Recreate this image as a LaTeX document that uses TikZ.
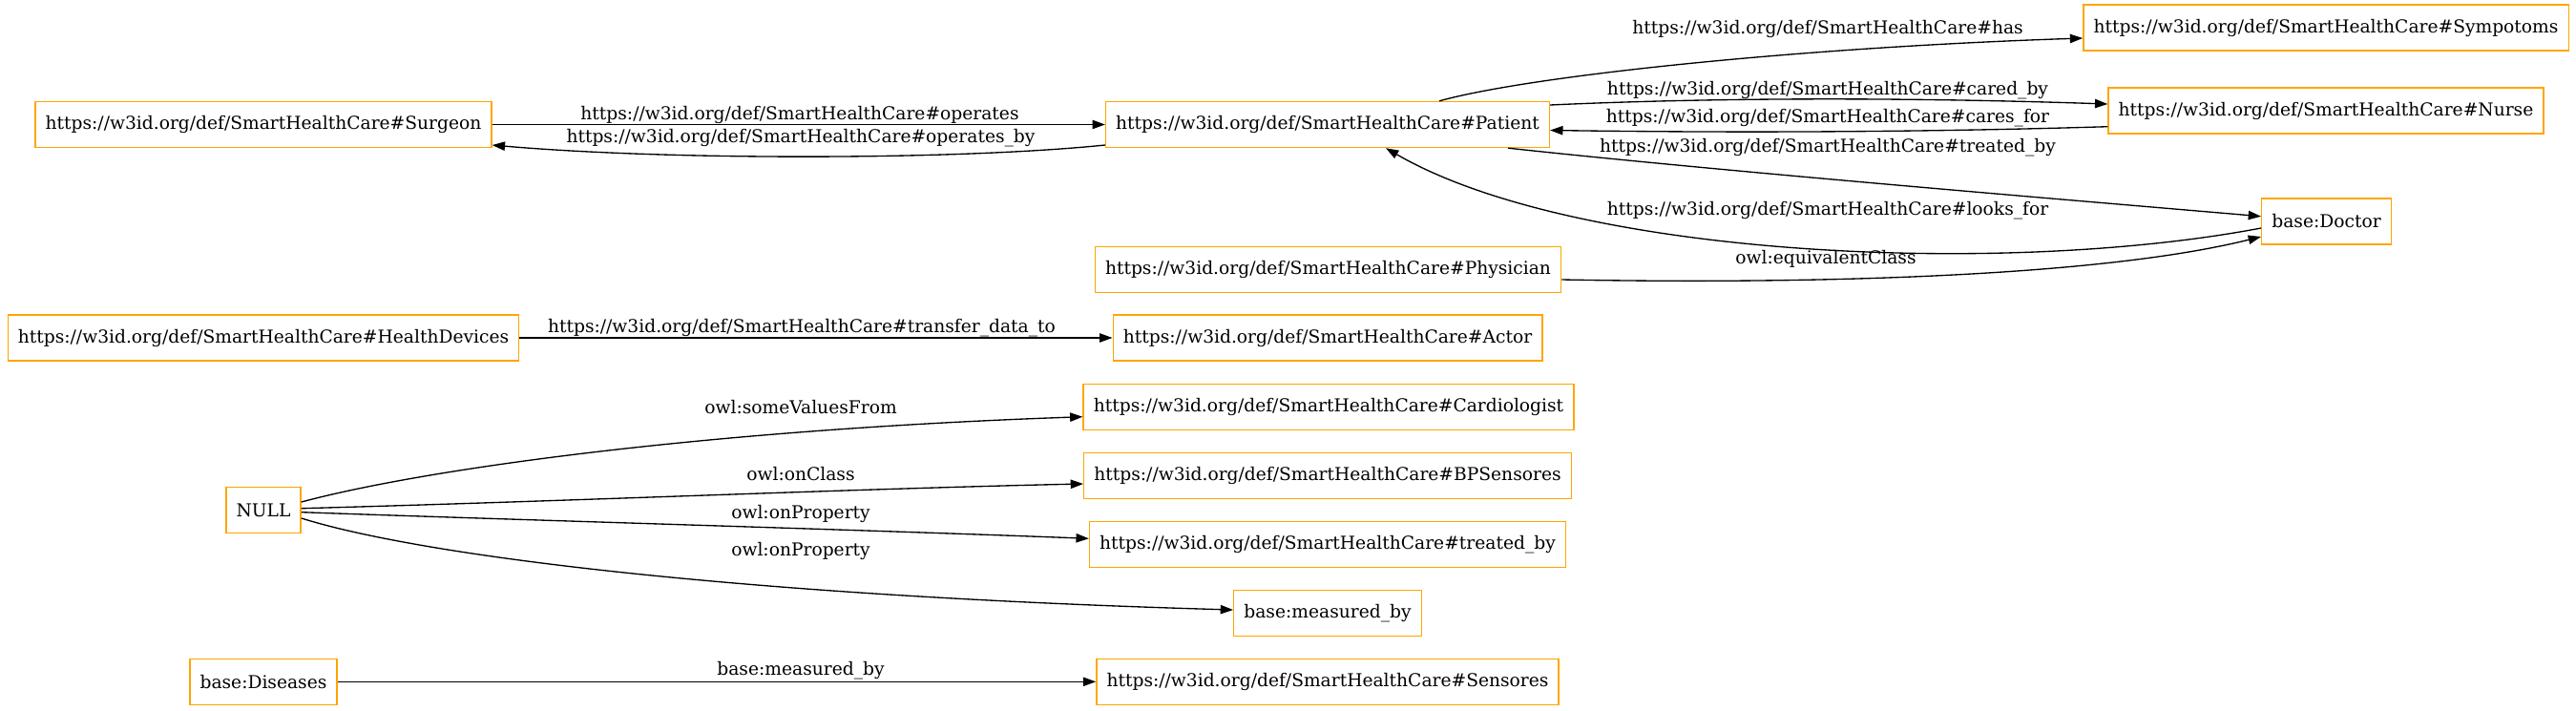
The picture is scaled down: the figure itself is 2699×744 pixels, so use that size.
\documentclass[tikz,border=0pt]{standalone}
\usepackage{fontspec}
\setmainfont{DejaVu Serif}
\usetikzlibrary{arrows.meta,calc}
\definecolor{gvorange}{RGB}{255,165,0}
\tikzset{
  cls/.style={draw=gvorange,line width=1pt,fill=white,minimum height=36pt,inner xsep=8pt,inner ysep=0pt,font=\fontsize{14pt}{16pt}\selectfont},
  lbl/.style={inner sep=0pt,font=\fontsize{14pt}{16pt}\selectfont},
  edge/.style={line width=1pt,-{Triangle[length=10pt,width=7pt]}}
}
\begin{document}
\begin{tikzpicture}[x=0.75pt,y=-0.75pt]
\fill[white] (0,0) rectangle (2699,744);
\useasboundingbox (0,0) rectangle (2699,744);
% nodes
\node[cls] (surgeon) at (276,130.5) {https://w3id.org/def/SmartHealthCare\#Surgeon};
\node[cls] (patient) at (1391,130.5) {https://w3id.org/def/SmartHealthCare\#Patient};
\node[cls] (symp) at (2437,29) {https://w3id.org/def/SmartHealthCare\#Sympotoms};
\node[cls] (nurse) at (2437,116) {https://w3id.org/def/SmartHealthCare\#Nurse};
\node[cls] (doctor) at (2437.5,232) {base:Doctor};
\node[cls] (physician) at (1391.5,282.5) {https://w3id.org/def/SmartHealthCare\#Physician};
\node[cls] (hdev) at (276,354) {https://w3id.org/def/SmartHealthCare\#HealthDevices};
\node[cls] (actor) at (1391,354) {https://w3id.org/def/SmartHealthCare\#Actor};
\node[cls] (cardio) at (1392,426.7) {https://w3id.org/def/SmartHealthCare\#Cardiologist};
\node[cls] (bps) at (1391,498.7) {https://w3id.org/def/SmartHealthCare\#BPSensores};
\node[cls] (tby) at (1391,570.5) {https://w3id.org/def/SmartHealthCare\#treated\_by};
\node[cls] (mby) at (1391,642.7) {base:measured\_by};
\node[cls] (null) at (276,534.7) {NULL};
\node[cls] (diseases) at (276,714.3) {base:Diseases};
\node[cls] (sensores) at (1391,714.3) {https://w3id.org/def/SmartHealthCare\#Sensores};
% edges
\draw[edge] (surgeon.east) -- (patient.west);
\node[lbl] (l1) at (838,120) {https://w3id.org/def/SmartHealthCare\#operates};
\draw[edge] ($(patient.west)+(0,21.5)$) .. controls (1000,168) and (700,168) .. ($(surgeon.east)+(0,21.5)$);
\node[lbl] (l2) at (839,145) {https://w3id.org/def/SmartHealthCare\#operates\_by};
\draw[edge] ($(patient.north)+(117,0)$) .. controls (1600,80) and (1880,50) .. ($(symp.west)+(0,11)$);
\node[lbl] (l3) at (1915,30) {https://w3id.org/def/SmartHealthCare\#has};
\draw[edge] ($(patient.east)+(0,-20.5)$) .. controls (1800,102) and (2000,102) .. ($(nurse.west)+(0,-7)$);
\node[lbl] (l4) at (1915,95) {https://w3id.org/def/SmartHealthCare\#cared\_by};
\draw[edge] ($(nurse.west)+(0,16.7)$) .. controls (2000,139) and (1800,139) .. ($(patient.east)+(0,6)$);
\node[lbl] (l5) at (1915,124) {https://w3id.org/def/SmartHealthCare\#cares\_for};
\draw[edge] ($(patient.south)+(189,0)$) .. controls (1800,179) and (2150,208) .. ($(doctor.west)+(0,-5.3)$);
\node[lbl] (l6) at (1915,155) {https://w3id.org/def/SmartHealthCare\#treated\_by};
\draw[edge] ($(doctor.west)+(0,7)$) .. controls (2100,290) and (1650,270) .. ($(patient.south)+(61,0)$);
\node[lbl] (l7) at (1915,221) {https://w3id.org/def/SmartHealthCare\#looks\_for};
\draw[edge] ($(physician.east)+(0,10.5)$) .. controls (1900,298) and (2200,290) .. ($(doctor.west)+(0,16)$);
\node[lbl] (l8) at (1913,271) {owl:equivalentClass};
\draw[edge] (hdev) -- (actor);
\node[lbl] (l9) at (840,344) {https://w3id.org/def/SmartHealthCare\#transfer\_data\_to};
\draw[edge] ($(null.east)+(0,-8.7)$) .. controls (450,490) and (750,450) .. ($(cardio.west)+(0,10)$);
\node[lbl] (l10) at (839,427) {owl:someValuesFrom};
\draw[edge] ($(null.east)+(0,-2)$) .. controls (600,525) and (900,512) .. ($(bps.west)+(0,8.3)$);
\node[lbl] (l11) at (839,497) {owl:onClass};
\draw[edge] ($(null.east)+(0,2)$) .. controls (550,545) and (900,555) .. ($(tby.west)+(0,-6.2)$);
\node[lbl] (l12) at (839,538) {owl:onProperty};
\draw[edge] ($(null.east)+(0,8.3)$) .. controls (450,585) and (800,625) .. ($(mby.west)+(0,-3.7)$);
\node[lbl] (l13) at (839,577) {owl:onProperty};
\draw[edge] (diseases) -- (sensores);
\node[lbl] (l14) at (839,703) {base:measured\_by};
\end{tikzpicture}
\end{document}
